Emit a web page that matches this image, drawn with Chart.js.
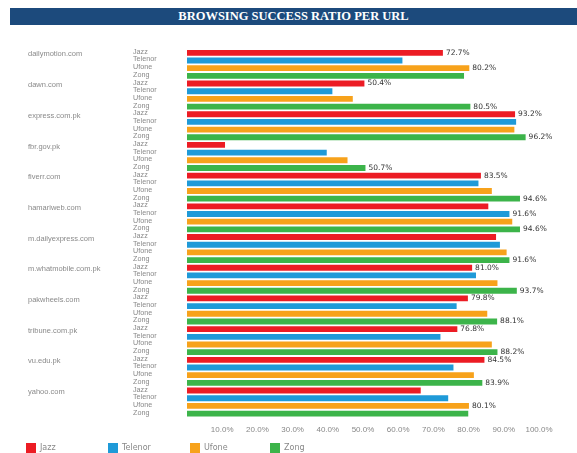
<!DOCTYPE html>
<html>
<head>
<meta charset="utf-8">
<script src="https://cdn.jsdelivr.net/npm/chart.js@4"></script>
<style>
  body { margin: 0; width: 577px; height: 453px; background: #fff; overflow: hidden; position: relative; font-family: "DejaVu Sans", sans-serif; }
  #title { position: absolute; left: 10px; top: 8px; width: 567px; height: 17px; background: #1c4a7c; color: #fff;
           font: bold 12.5px "Liberation Serif", serif; text-align: center; line-height: 17px; }
  #wrap { position: absolute; left: 0; top: 0; width: 577px; height: 448px; }
  .lg { position: absolute; top: 443px; font-size: 8px; color: #888; line-height: 10px; white-space: nowrap; }
  .lg span { display: inline-block; width: 10px; height: 10px; vertical-align: top; margin-right: 4px; }
</style>
</head>
<body>
<div id="title">BROWSING SUCCESS RATIO PER URL</div>
<div id="wrap"><canvas id="myChart"></canvas></div>
<div id="legend"></div>
<script>
const urls = ['dailymotion.com', 'dawn.com', 'express.com.pk', 'fbr.gov.pk', 'fiverr.com', 'hamariweb.com',
  'm.dailyexpress.com', 'm.whatmobile.com.pk', 'pakwheels.com', 'tribune.com.pk', 'vu.edu.pk', 'yahoo.com'];
const operators = ['Jazz', 'Telenor', 'Ufone', 'Zong'];
const colors = ['#ec1c24', '#1f9ad8', '#f7a21b', '#3cb44a'];

// success ratio (%) per url
const jazz    = [72.7, 50.4, 93.2, 10.8, 83.5, 85.6, 87.8, 81.0, 79.8, 76.8, 84.5, 66.4];
const telenor = [61.2, 41.3, 93.5, 39.7, 82.8, 91.6, 88.9, 82.1, 76.6, 72.0, 75.7, 74.2];
const ufone   = [80.2, 47.1, 93.0, 45.6, 86.6, 92.4, 90.8, 88.2, 85.3, 86.6, 81.5, 80.1];
const zong    = [78.7, 80.5, 96.2, 50.7, 94.6, 94.6, 91.6, 93.7, 88.1, 88.2, 83.9, 79.9];

// which bars carry a value label in the original
const jazzShown    = [1, 1, 1, 0, 1, 0, 0, 1, 1, 1, 1, 0];
const telenorShown = [0, 0, 0, 0, 0, 1, 0, 0, 0, 0, 0, 0];
const ufoneShown   = [1, 0, 0, 0, 0, 0, 0, 0, 0, 0, 0, 1];
const zongShown    = [0, 1, 1, 1, 1, 1, 1, 1, 1, 1, 1, 0];

const series = [jazz, telenor, ufone, zong];
const shown = [jazzShown, telenorShown, ufoneShown, zongShown];

// one operator name per bar row
const opLabels = [];
urls.forEach(() => operators.forEach(op => opLabels.push(op)));

const valueLabels = {
  id: 'valueLabels',
  afterDatasetsDraw(chart) {
    const ctx = chart.ctx;
    ctx.save();
    ctx.font = '7.5px "DejaVu Sans"';
    ctx.fillStyle = '#333';
    ctx.textBaseline = 'middle';
    chart.data.datasets.forEach((ds, i) => {
      chart.getDatasetMeta(i).data.forEach((bar, j) => {
        if (!shown[i][j]) return;
        ctx.fillText(ds.data[j].toFixed(1) + '%', bar.x + 3, bar.y);
      });
    });
    ctx.restore();
  }
};

const data = {
  labels: urls,
  datasets: operators.map((op, i) => ({
    label: op,
    data: series[i],
    backgroundColor: colors[i],
    yAxisID: 'y',
    barPercentage: 0.76,
    categoryPercentage: 1
  }))
};

const config = {
  type: 'bar',
  data,
  options: {
    indexAxis: 'y',
    animation: false,
    responsive: true,
    maintainAspectRatio: false,
    layout: { padding: { left: 28, top: 49, right: 38, bottom: 5 } },
    plugins: { legend: { display: false }, tooltip: { enabled: false } },
    scales: {
      x: {
        min: 0, max: 100,
        ticks: { stepSize: 10, autoSkip: false, maxRotation: 0, padding: 8, color: '#888',
                 font: { size: 8 }, callback: v => v ? v.toFixed(1) + '%' : '' },
        grid: { display: false, drawTicks: false },
        border: { display: false }
      },
      y: {
        weight: 10,
        ticks: { crossAlign: 'far', labelOffset: -10, autoSkip: false, color: '#8a8a8a', font: { size: 7.5 } },
        grid: { display: false, drawTicks: false },
        border: { display: false },
        afterFit: s => { s.width = 105; }
      },
      ops: {
        axis: 'y', type: 'category', labels: opLabels, offset: true, position: 'left',
        ticks: { crossAlign: 'far', labelOffset: -1, autoSkip: false, color: '#888', font: { size: 7.2 } },
        grid: { display: false, drawTicks: false },
        border: { display: false },
        afterFit: s => { s.width = 54; }
      }
    }
  },
  plugins: [valueLabels]
};

const myChart = new Chart(document.getElementById('myChart'), config);

// legend along the bottom
const legendX = [26, 108, 190, 270];
operators.forEach((op, i) => {
  const d = document.createElement('div');
  d.className = 'lg';
  d.style.left = legendX[i] + 'px';
  d.innerHTML = '<span style="background:' + colors[i] + '"></span>' + op;
  document.getElementById('legend').appendChild(d);
});
</script>
</body>
</html>
